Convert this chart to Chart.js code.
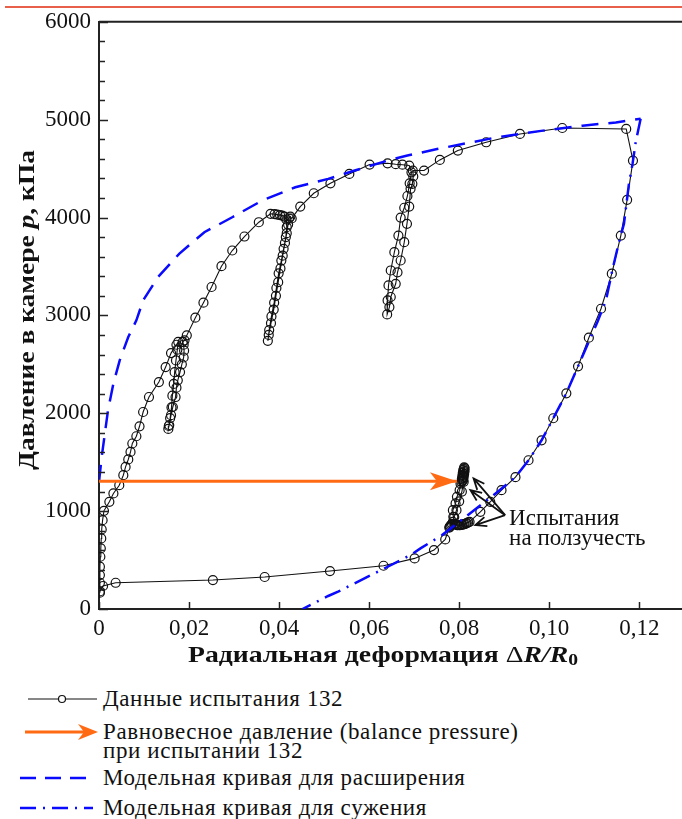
<!DOCTYPE html>
<html>
<head>
<meta charset="utf-8">
<script src="https://cdn.jsdelivr.net/npm/chart.js@4/dist/chart.umd.min.js"></script>
<style>
  body { margin: 0; background: #fff; }
  #page { position: relative; width: 682px; height: 819px; overflow: hidden; font-family: "Liberation Serif", "Times New Roman", serif; color: #111; }
  #topline { position: absolute; left: 5px; right: 0; top: 6px; height: 2px; background: #e8604a; }
  #chartBox { position: absolute; left: 0; top: 0; width: 690px; height: 680px; }
  #legSvg { position: absolute; left: 0; top: 680px; }
  .legText { position: absolute; left: 103px; font-size: 23px; line-height: 19px; letter-spacing: 0.6px; white-space: nowrap; }
</style>
</head>
<body>
<div id="page">
  <div id="topline"></div>
  <div id="chartBox"><canvas id="chart" width="690" height="680"></canvas></div>

  <svg id="legSvg" width="110" height="139">
    <line x1="28" y1="19" x2="97" y2="19" stroke="#111" stroke-width="1.2"/>
    <circle cx="62" cy="19" r="3.5" fill="#fff" stroke="#111" stroke-width="1.2"/>
    <line x1="25" y1="52" x2="86" y2="52" stroke="#ff6a13" stroke-width="3"/>
    <polygon points="98,52 78,44 84,52 78,60" fill="#ff6a13"/>
    <line x1="20" y1="98" x2="93" y2="98" stroke="#0a0aff" stroke-width="2.5" stroke-dasharray="16,9"/>
    <line x1="20" y1="128" x2="93" y2="128" stroke="#0a0aff" stroke-width="2.5" stroke-dasharray="16,7,2,7"/>
  </svg>
  <div class="legText" style="top:689px">Данные испытания 132</div>
  <div class="legText" style="top:722px">Равновесное давление (balance pressure)<br>при испытании 132</div>
  <div class="legText" style="top:768px">Модельная кривая для расширения</div>
  <div class="legText" style="top:798px">Модельная кривая для сужения</div>
</div>

<script>
// test 132 data, in measurement order
const testX = [
  0.0002, 0.0002, 0.0002, 0.0002, 0.0003, 0.0004, 0.0005, 0.0006, 0.0008, 0.0011, 0.0023, 0.0032, 0.0045, 0.0054,
  0.0059, 0.0065, 0.0070, 0.0074, 0.0083, 0.0090, 0.0098, 0.0111, 0.0133, 0.0148, 0.0160, 0.0172, 0.0176,
  0.0174, 0.0171, 0.0168, 0.0166, 0.0163, 0.0161, 0.0158, 0.0155, 0.0154,
  0.0156, 0.0160, 0.0164, 0.0170, 0.0172, 0.0175, 0.0180, 0.0184, 0.0188, 0.0189, 0.0188, 0.0186, 0.0190,
  0.0195, 0.0214, 0.0232, 0.0250, 0.0272, 0.0296, 0.0323, 0.0355, 0.0381, 0.0390, 0.0396, 0.0402, 0.0407, 0.0412, 0.0416,
  0.0417, 0.0415, 0.0410, 0.0405, 0.0399, 0.0394, 0.0389, 0.0383, 0.0378, 0.0375,
  0.0377, 0.0382, 0.0388, 0.0393, 0.0398, 0.0403, 0.0408, 0.0413, 0.0417, 0.0420, 0.0422, 0.0425,
  0.0428, 0.0447, 0.0477, 0.0514, 0.0556, 0.0601, 0.0641, 0.0659, 0.0674, 0.0689,
  0.0694, 0.0690, 0.0685, 0.0678, 0.0670, 0.0665, 0.0656, 0.0648, 0.0643, 0.0641, 0.0640,
  0.0645, 0.0648, 0.0659, 0.0663, 0.0670, 0.0678, 0.0684, 0.0689, 0.0692, 0.0696, 0.0698, 0.0697,
  0.0722, 0.0757, 0.0797, 0.0860, 0.0935, 0.1029, 0.1171,
  0.1186, 0.1173, 0.1159, 0.1139, 0.1115, 0.1088, 0.1064, 0.1038, 0.1009, 0.0983, 0.0954, 0.0925, 0.0894, 0.0869, 0.0847, 0.0823,
  // creep test at low pressure
  0.0820, 0.0817, 0.0815, 0.0812, 0.0810, 0.0807, 0.0805, 0.0802, 0.0800, 0.0797, 0.0795, 0.0792, 0.0790,
  0.0787, 0.0786, 0.0792, 0.0795, 0.0801, 0.0803,
  // creep test at balance pressure
  0.0805, 0.0807, 0.0809, 0.0806, 0.0808, 0.0810, 0.0807, 0.0809, 0.0811, 0.0808, 0.0810, 0.0812, 0.0809, 0.0811, 0.0812, 0.0811,
  0.0810, 0.0806, 0.0800, 0.0794, 0.0789,
  0.0786, 0.0784, 0.0782, 0.0780, 0.0779, 0.0778,
  0.0769, 0.0744, 0.0701, 0.0632, 0.0513, 0.0368, 0.0253, 0.0037, 0.0009, 0.0002
];
const testY = [
  166, 268, 347, 432, 534, 619, 721, 813, 908, 1003, 1095, 1181, 1265, 1367,
  1452, 1528, 1605, 1691, 1765, 1867, 2013, 2166, 2319, 2472, 2615, 2700, 2730,
  2650, 2540, 2420, 2300, 2180, 2060, 1950, 1870, 1840,
  1880, 1980, 2064, 2166, 2262, 2337, 2421, 2500, 2570, 2640, 2700, 2730, 2745,
  2796, 2977, 3130, 3290, 3503, 3663, 3806, 3952, 4038, 4035, 4030, 4025, 4020, 4010, 3980,
  3901, 3800, 3680, 3560, 3430, 3280, 3130, 2990, 2850, 2740,
  2800, 2920, 3060, 3200, 3340, 3480, 3610, 3740, 3840, 3930, 3990, 4010,
  3990, 4112, 4248, 4350, 4446, 4541, 4554, 4545, 4540, 4531,
  4462, 4350, 4220, 4100, 4000, 3816, 3646, 3459, 3306, 3153, 3010,
  3085, 3188, 3323, 3440, 3561, 3748, 3936, 4112, 4293, 4344, 4420, 4480,
  4480, 4589, 4684, 4769, 4854, 4915, 4905,
  4582, 4181, 3816, 3426, 3068, 2772, 2480, 2204, 1949, 1724, 1520, 1347, 1214, 1095, 993, 891,
  885, 878, 873, 868, 865, 862, 860, 858, 857, 857, 858, 862, 870,
  942, 1010, 1079, 1146, 1214, 1280,
  1300, 1310, 1320, 1330, 1340, 1350, 1360, 1370, 1380, 1390, 1400, 1410, 1420, 1430, 1440, 1448,
  1300, 1200, 1100, 1010, 940,
  890, 870, 858, 848, 840, 832,
  711, 602, 517, 442, 388, 327, 296, 268, 235, 180
];

// model curve for expansion
const expX = [0, 0.0006, 0.0013, 0.0020, 0.0032, 0.0046, 0.0065, 0.0083, 0.0098, 0.0131, 0.0178, 0.0234, 0.0296,
  0.0362, 0.0436, 0.0509, 0.0568, 0.0641, 0.0685, 0.0751, 0.0883, 0.0986, 0.1074, 0.1148, 0.1203];
const expY = [1300, 1554, 1793, 2031, 2303, 2541, 2779, 2949, 3153, 3391, 3629, 3850, 4003,
  4173, 4309, 4395, 4480, 4582, 4633, 4700, 4819, 4888, 4939, 4972, 5010];

// model curve for contraction
const conX = [0.1203, 0.1192, 0.1185, 0.1177, 0.1166, 0.1154, 0.1140, 0.1126, 0.1107, 0.1064, 0.1038, 0.1009,
  0.0983, 0.0954, 0.0925, 0.0876, 0.0762, 0.0714, 0.0692, 0.0612, 0.0531, 0.0509, 0.0452];
const conY = [5010, 4768, 4548, 4344, 3936, 3731, 3459, 3153, 2932, 2480, 2204, 1949,
  1724, 1520, 1347, 1163, 755, 619, 551, 364, 177, 133, 0];

// balance pressure arrow
const balanceX = [0, 0.0795];
const balanceY = [1306, 1306];

// creep test note: arrow tail and tips
const creepTail = [0.0902, 959];
const creepTipX = [0.0832, 0.0825, 0.0836];
const creepTipY = [1334, 1214, 857];
const creepLabel = ["Испытания", "на ползучесть"];

const xTicks = [0, 0.02, 0.04, 0.06, 0.08, 0.10, 0.12];
const yTicks = [0, 1000, 2000, 3000, 4000, 5000, 6000];

const zip = (xs, ys) => xs.map((x, i) => ({ x: x, y: ys[i] }));

const BLUE = "#0a0aff";
const ORANGE = "#ff6a13";
const SERIF = "'Liberation Serif', 'Times New Roman', serif";

// draws text runs with mixed fonts, centred on x, stretched to a given width
function drawRich(ctx, parts, x, y, width) {
  let total = 0;
  parts.forEach(p => { ctx.font = p[1]; total += ctx.measureText(p[0]).width; });
  ctx.save();
  ctx.translate(x, y);
  ctx.scale(width / total, 1);
  let cx = -total / 2;
  parts.forEach(p => {
    ctx.font = p[1];
    ctx.fillText(p[0], cx, p[2] || 0);
    cx += ctx.measureText(p[0]).width;
  });
  ctx.restore();
}

const decor = {
  id: "decor",
  afterDatasetsDraw(chart) {
    const ctx = chart.ctx, xs = chart.scales.x, ys = chart.scales.y;
    ctx.save();
    // orange arrow head
    const tx = xs.getPixelForValue(balanceX[1]), ty = ys.getPixelForValue(balanceY[1]);
    ctx.fillStyle = ORANGE;
    ctx.beginPath();
    ctx.moveTo(tx, ty);
    ctx.lineTo(tx - 27, ty - 9);
    ctx.lineTo(tx - 20, ty);
    ctx.lineTo(tx - 27, ty + 9);
    ctx.closePath();
    ctx.fill();

    // creep test arrows
    const ax = xs.getPixelForValue(creepTail[0]), ay = ys.getPixelForValue(creepTail[1]);
    ctx.strokeStyle = "#111";
    ctx.lineWidth = 1.8;
    creepTipX.forEach((cx, i) => {
      const px = xs.getPixelForValue(cx), py = ys.getPixelForValue(creepTipY[i]);
      const a = Math.atan2(py - ay, px - ax);
      ctx.beginPath();
      ctx.moveTo(ax, ay);
      ctx.lineTo(px, py);
      ctx.moveTo(px - 12 * Math.cos(a - 0.4), py - 12 * Math.sin(a - 0.4));
      ctx.lineTo(px, py);
      ctx.lineTo(px - 12 * Math.cos(a + 0.4), py - 12 * Math.sin(a + 0.4));
      ctx.stroke();
    });
    ctx.fillStyle = "#111";
    ctx.font = "23px " + SERIF;
    ctx.textBaseline = "middle";
    ctx.fillText(creepLabel[0], ax + 4, ay + 4);
    ctx.fillText(creepLabel[1], ax + 4, ay + 24);
    ctx.restore();
  },
  afterDraw(chart) {
    const ctx = chart.ctx, xs = chart.scales.x, ys = chart.scales.y, a = chart.chartArea;
    ctx.save();
    ctx.strokeStyle = "#222";
    ctx.lineWidth = 1.5;
    // inward ticks
    ctx.beginPath();
    for (let v = 0; v <= 6000; v += 200) {
      const py = Math.round(ys.getPixelForValue(v)) + 0.5;
      ctx.moveTo(a.left, py);
      ctx.lineTo(a.left + (v % 1000 === 0 ? 9 : 6), py);
    }
    xTicks.forEach(v => {
      const px = Math.round(xs.getPixelForValue(v)) + 0.5;
      ctx.moveTo(px, a.bottom);
      ctx.lineTo(px, a.bottom - 7);
    });
    ctx.stroke();
    // top frame
    ctx.lineWidth = 2;
    ctx.beginPath();
    ctx.moveTo(a.left, a.top);
    ctx.lineTo(a.right, a.top);
    ctx.lineTo(a.right, a.bottom);
    ctx.stroke();

    // axis titles
    ctx.fillStyle = "#111";
    ctx.textBaseline = "middle";
    const b = "bold 24px " + SERIF, bi = "italic bold 24px " + SERIF;
    drawRich(ctx, [["Радиальная деформация ", b], ["Δ", "24px " + SERIF], ["R/R", bi], ["0", "bold 17px " + SERIF, 5]], 383, 656, 390);
    ctx.translate(28, 310);
    ctx.rotate(-Math.PI / 2);
    drawRich(ctx, [["Давление в камере ", b], ["p", bi], [", кПа", b]], 0, 0, 320);
    ctx.restore();
  }
};

new Chart(document.getElementById("chart").getContext("2d"), {
  type: "scatter",
  data: {
    datasets: [
      {
        label: "Равновесное давление",
        data: zip(balanceX, balanceY),
        showLine: true,
        borderColor: ORANGE,
        borderWidth: 3,
        pointRadius: 0,
        order: 0
      },
      {
        label: "Модельная кривая для расширения",
        data: zip(expX, expY),
        showLine: true,
        borderColor: BLUE,
        borderWidth: 2.5,
        borderDash: [17, 10],
        pointRadius: 0,
        order: 1
      },
      {
        label: "Модельная кривая для сужения",
        data: zip(conX, conY),
        showLine: true,
        borderColor: BLUE,
        borderWidth: 2.5,
        borderDash: [17, 7, 2, 7],
        pointRadius: 0,
        order: 1
      },
      {
        label: "Данные испытания 132",
        data: zip(testX, testY),
        showLine: true,
        borderColor: "#111",
        borderWidth: 1.1,
        pointRadius: 4.5,
        pointBackgroundColor: "rgba(0,0,0,0)",
        pointBorderColor: "#111",
        pointBorderWidth: 1.2,
        order: 2
      }
    ]
  },
  options: {
    responsive: false,
    animation: false,
    layout: { padding: { top: 21, left: 0, right: 0, bottom: 0 } },
    plugins: { legend: { display: false }, tooltip: { enabled: false } },
    scales: {
      x: {
        type: "linear",
        min: 0,
        max: 0.13,
        afterBuildTicks: s => { s.ticks = xTicks.map(v => ({ value: v })); },
        afterFit: s => { s.height = 71; },
        grid: { drawOnChartArea: false, drawTicks: false },
        border: { display: true, color: "#222", width: 2 },
        ticks: {
          padding: 6,
          color: "#111",
          font: { family: SERIF, size: 23 },
          callback: v => v === 0 ? "0" : v.toFixed(2).replace(".", ",")
        }
      },
      y: {
        min: 0,
        max: 6000,
        afterBuildTicks: s => { s.ticks = yTicks.map(v => ({ value: v })); },
        afterFit: s => { s.width = 99; },
        grid: { drawOnChartArea: false, drawTicks: false },
        border: { display: true, color: "#222", width: 2 },
        ticks: {
          padding: 8,
          color: "#111",
          font: { family: SERIF, size: 23 },
          callback: v => String(v)
        }
      }
    }
  },
  plugins: [decor]
});
</script>
</body>
</html>
